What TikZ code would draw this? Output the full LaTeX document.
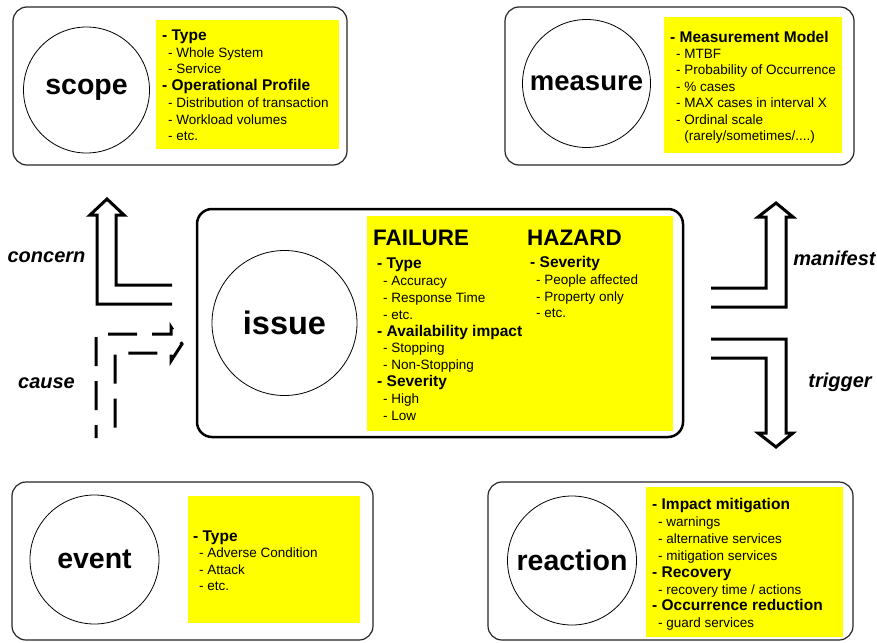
\documentclass[tikz,border=0pt]{standalone}
\usepackage{fontspec}
\setmainfont{Liberation Sans}
\definecolor{noteyellow}{RGB}{255,255,0}
\newcommand\hd[1]{{\fontsize{15.5}{17}\selectfont\bfseries - #1}}
\newcommand\im[1]{\hspace*{6pt}- #1}
\newcommand\rarelyline{\hspace*{6pt}\phantom{- }(rarely/sometimes/....)}
\newcommand\txtblock[5]{%
  \foreach \entry [count=\i] in {#5} {
    \node[txt] (#1-\i) at (#2, {#3+(\i-1)*#4}) {\entry};
  }%
}
\begin{document}
\begin{tikzpicture}[x=1pt,y=-1pt,
  card/.style={draw=black!85, line width=1.2pt, rounded corners=14pt},
  mainframe/.style={draw=black, line width=2.5pt, rounded corners=15pt},
  note/.style={fill=noteyellow},
  bubble/.style={draw=black, circle, line width=0.8pt, inner sep=0pt, font=\bfseries\fontsize{28.5}{30}\selectfont},
  txt/.style={anchor=base west, inner sep=0pt, font=\fontsize{13.5}{16}\selectfont},
  big/.style={anchor=base west, inner sep=0pt, font=\bfseries\fontsize{22.4}{24}\selectfont},
  rel/.style={anchor=base, inner sep=0pt, font=\bfseries\itshape\fontsize{20}{22}\selectfont},
  blockarrow/.style={draw=black, line width=3pt, line join=miter},
  dasharrow/.style={draw=black, line width=3pt, line join=miter, dash pattern=on 29pt off 15pt, dash phase=16pt}
]
\useasboundingbox (0,0) rectangle (877,642);
\fill[white] (0,0) rectangle (877,642);

% boxes
\draw[card] (13,7) rectangle (347,165);
\draw[card] (505,7) rectangle (854,165);
\draw[mainframe] (197,209) rectangle (683,437);
\draw[card] (12,482) rectangle (373,640);
\draw[card] (488,482) rectangle (853,640);

% yellow notes
\fill[note] (156,20) rectangle (339,149);
\fill[note] (664,17) rectangle (842,153);
\fill[note] (367,216) rectangle (673,431);
\fill[note] (188,496) rectangle (360,623);
\fill[note] (646,487) rectangle (843,637);

% circles
\node[bubble, minimum size=126pt] (scope) at (86.5,90) {scope};
\node[bubble, minimum size=128pt, font=\bfseries\fontsize{27.5}{30}\selectfont] (measure) at (586.5,83.5) {measure};
\node[bubble, minimum size=145pt, font=\bfseries\fontsize{32.5}{34}\selectfont] (issue) at (284.5,323) {issue};
\node[bubble, minimum size=129pt] (event) at (94.5,559.5) {event};
\node[bubble, minimum size=129pt] (reaction) at (572,560.5) {reaction};

% texts
\txtblock{sc}{162}{40.5}{16.7}{{\hd{Type}},{\im{Whole System}},{\im{Service}},{\hd{Operational Profile}},{\im{Distribution of transaction}},{\im{Workload volumes}},{\im{etc.}}}
\txtblock{me}{670}{42}{16.4}{{\hd{Measurement Model}},{\im{MTBF}},{\im{Probability of Occurrence}},{\im{\% cases}},{\im{MAX cases in interval X}},{\im{Ordinal scale}},{\rarelyline}}
\node[big] (failure) at (373,245) {FAILURE};
\node[big] (hazard) at (527,245) {HAZARD};
\txtblock{fa}{377}{268.8}{16.8}{{\hd{Type}},{\im{Accuracy}},{\im{Response Time}},{\im{etc.}},{\hd{Availability impact}},{\im{Stopping}},{\im{Non-Stopping}},{\hd{Severity}},{\im{High}},{\im{Low}}}
\txtblock{ha}{530}{267.5}{16.8}{{\hd{Severity}},{\im{People affected}},{\im{Property only}},{\im{etc.}}}
\txtblock{ev}{193}{541.5}{16.3}{{\hd{Type}},{\im{Adverse Condition}},{\im{Attack}},{\im{etc.}}}
\txtblock{re}{652}{509.5}{16.9}{{\hd{Impact mitigation}},{\im{warnings}},{\im{alternative services}},{\im{mitigation services}},{\hd{Recovery}},{\im{recovery time / actions}},{\hd{Occurrence reduction}},{\im{guard services}}}

% block arrows
\draw[blockarrow] (172,285) -- (116,285) -- (116,215) -- (124,215) -- (107,199) -- (90,215) -- (97,215) -- (97,304) -- (172,304);
\draw[dasharrow] (96,438) -- (96,334) -- (171,334) -- (171,327) -- (182,344) -- (171,361) -- (171,353) -- (115,353) -- (115,438);
\draw[blockarrow] (711,288) -- (766,288) -- (766,217) -- (758,217) -- (776,203) -- (793,217) -- (786,217) -- (786,307) -- (711,307);
\draw[blockarrow] (711,339) -- (786,339) -- (786,433) -- (793,433) -- (776,447) -- (758,433) -- (766,433) -- (766,358) -- (711,358);

% relation labels
\node[rel] (concern) at (46.5,262) {concern};
\node[rel] (cause) at (46.5,388) {cause};
\node[rel] (manifest) at (834.5,265) {manifest};
\node[rel] (trigger) at (840,387) {trigger};
\end{tikzpicture}
\end{document}
